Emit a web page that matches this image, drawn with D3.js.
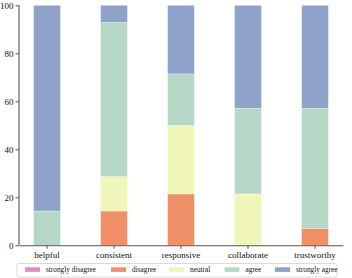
<!DOCTYPE html>
<html>
<head>
<meta charset="utf-8">
<script src="https://cdn.jsdelivr.net/npm/d3@7"></script>
<style>
  html, body { margin: 0; padding: 0; background: #fff; }
  svg { display: block; }
  text { font-family: "Liberation Serif", "DejaVu Serif", serif; }
</style>
</head>
<body>
<script>
const categories = ["helpful", "consistent", "responsive", "collaborate", "trustworthy"];
const levels = ["strongly disagree", "disagree", "neutral", "agree", "strongly agree"];
const stronglyDisagree = [0, 0, 0, 0, 0];
const disagree = [0, 14.3, 21.4, 0, 7.1];
const neutral = [0, 14.3, 28.6, 21.4, 0];
const agree = [14.3, 64.3, 21.4, 35.7, 50.0];
const stronglyAgree = [85.7, 7.1, 28.6, 42.9, 42.9];
const yTicks = [0, 20, 40, 60, 80, 100];
const colors = ["#df8bc4", "#f09069", "#eff6b7", "#b5d8c6", "#8fa2ca"];

const series = [stronglyDisagree, disagree, neutral, agree, stronglyAgree];

const W = 352, H = 278;
const svg = d3.select("body").append("svg").attr("width", W).attr("height", H);

const x = d3.scaleBand().domain(categories).range([19, 343]).paddingInner(0.6).paddingOuter(0.218);
const y = d3.scaleLinear().domain([0, 100]).range([245.3, 5.3]);

const rows = categories.map((c, i) => {
  const r = { cat: c };
  levels.forEach((l, j) => r[l] = series[j][i]);
  return r;
});
const stacked = d3.stack().keys(levels)(rows);

const g = svg.append("g");
stacked.forEach((layer, j) => {
  g.selectAll(null).data(layer).enter().append("rect")
    .attr("x", d => x(d.data.cat))
    .attr("width", x.bandwidth())
    .attr("y", d => y(d[1]))
    .attr("height", d => Math.max(0, y(d[0]) - y(d[1])))
    .attr("fill", colors[j])
    .attr("stroke", d => (d[1] - d[0]) > 0 ? "#ffffff" : "none")
    .attr("stroke-opacity", 0.5)
    .attr("stroke-width", 0.6);
});

// Y axis
const yAxis = svg.append("g").attr("transform", "translate(19,0)")
  .call(d3.axisLeft(y).tickValues(yTicks).tickSize(3.5).tickPadding(2));
// X axis
const xAxis = svg.append("g").attr("transform", "translate(0,245.3)")
  .call(d3.axisBottom(x).tickSize(3.5).tickPadding(2.5).tickSizeOuter(0));

[yAxis, xAxis].forEach(a => {
  a.select(".domain").attr("stroke", "#555").attr("stroke-width", 1.1);
  a.selectAll(".tick line").attr("stroke", "#555").attr("stroke-width", 1);
  a.selectAll("text").attr("fill", "#111").attr("font-family", "Liberation Serif, serif").attr("font-size", 9);
});
yAxis.select(".domain").attr("d", "M0," + y(100) + "V" + y(0));

// Legend
const leg = svg.append("g");
leg.append("rect").attr("x", 17).attr("y", 263.5).attr("width", 320).attr("height", 13.5)
  .attr("rx", 1.5).attr("fill", "#fff").attr("stroke", "#d0d0d0").attr("stroke-width", 0.8);
const legX = [25, 111, 169, 224.5, 275];
levels.forEach((l, j) => {
  leg.append("rect").attr("x", legX[j]).attr("y", 267.3).attr("width", 15).attr("height", 4.6).attr("fill", colors[j]);
  leg.append("text").attr("x", legX[j] + 21).attr("y", 272.3).attr("font-size", 7.3).attr("fill", "#111").text(l);
});
</script>
</body>
</html>
